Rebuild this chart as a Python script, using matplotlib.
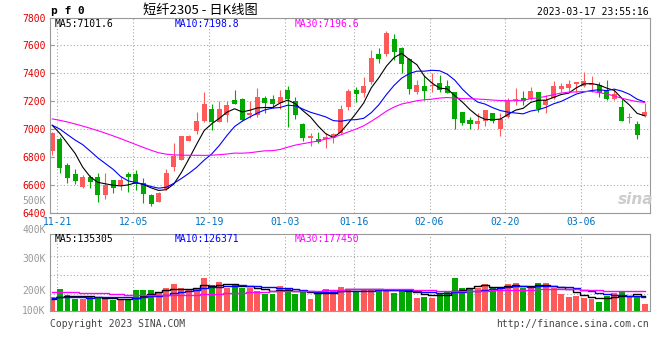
import matplotlib
matplotlib.use("Agg")
import matplotlib.pyplot as plt
import numpy as np
import pandas as pd

# daily K of pf2305, one value per trading day (11-18 .. 03-16)
opens = [6848, 6931, 6745, 6681, 6590, 6657, 6662, 6531, 6638, 6602,
         6683, 6681, 6614, 6531, 6483, 6574, 6729, 6783, 6919, 6990,
         7062, 7145, 7055, 7102, 7210, 7217, 7102, 7102, 7221, 7214,
         7186, 7281, 7202, 7038, 6940, 6931, 6933, 6936, 6976, 7157,
         7281, 7262, 7336, 7538, 7536, 7645, 7579, 7500, 7269, 7310,
         7307, 7329, 7310, 7269, 7121, 7067, 7038, 7060, 7114, 7005,
         7090, 7210, 7221, 7214, 7269, 7176, 7226, 7288, 7298, 7324,
         7312, 7317, 7317, 7281, 7217, 7157, 7079, 7036, 7095]
highs = [6983, 6948, 6762, 6714, 6674, 6674, 6686, 6686, 6640, 6667,
         6698, 6710, 6650, 6538, 6550, 6717, 6902, 6955, 6960, 7121,
         7269, 7181, 7205, 7205, 7281, 7225, 7205, 7293, 7238, 7245,
         7281, 7310, 7233, 7048, 6971, 6983, 6976, 6976, 7174, 7286,
         7305, 7371, 7567, 7579, 7702, 7681, 7590, 7507, 7352, 7388,
         7400, 7388, 7352, 7269, 7121, 7086, 7114, 7138, 7114, 7114,
         7221, 7293, 7274, 7305, 7269, 7245, 7345, 7329, 7352, 7340,
         7407, 7381, 7340, 7352, 7286, 7214, 7114, 7062, 7186]
lows = [6819, 6690, 6619, 6607, 6579, 6579, 6483, 6502, 6543, 6567,
        6555, 6567, 6471, 6450, 6479, 6569, 6700, 6783, 6919, 6967,
        7055, 6998, 7050, 7055, 7183, 7060, 7082, 7090, 7114, 7150,
        7143, 7019, 7071, 6919, 6881, 6900, 6869, 6900, 6967, 7138,
        7198, 7233, 7324, 7476, 7524, 7495, 7405, 7252, 7252, 7210,
        7269, 7269, 7257, 7005, 7031, 7005, 7005, 7026, 7043, 6955,
        7079, 7174, 7174, 7210, 7126, 7119, 7214, 7269, 7264, 7264,
        7305, 7267, 7233, 7210, 7210, 7062, 7043, 6929, 7090]
closes = [6976, 6726, 6655, 6633, 6662, 6626, 6531, 6602, 6583, 6638,
          6662, 6610, 6537, 6464, 6545, 6688, 6812, 6950, 6955, 7060,
          7181, 7055, 7145, 7174, 7183, 7067, 7114, 7229, 7190, 7181,
          7229, 7217, 7102, 6940, 6955, 6907, 6943, 6964, 7143, 7276,
          7250, 7310, 7507, 7505, 7690, 7555, 7464, 7288, 7317, 7276,
          7312, 7281, 7262, 7074, 7048, 7038, 7060, 7138, 7062, 7071,
          7202, 7214, 7205, 7274, 7145, 7207, 7310, 7310, 7324, 7336,
          7345, 7324, 7257, 7214, 7252, 7062, 7086, 6960, 7126]
# volume in thousand lots
volumes = [130, 197, 149, 108, 108, 124, 130, 108, 97, 97,
           108, 189, 189, 189, 162, 205, 243, 211, 194, 205,
           300, 238, 259, 211, 232, 211, 205, 184, 157, 157,
           230, 211, 157, 170, 108, 162, 203, 189, 219, 203,
           170, 203, 203, 203, 184, 162, 178, 194, 118, 125,
           118, 155, 185, 300, 210, 210, 210, 240, 205, 210,
           248, 255, 210, 210, 255, 255, 205, 150, 130, 135,
           120, 110, 80, 140, 165, 170, 135, 140, 67]

# the 29 days before the window, only used so the averages start filled
prev_closes = [7026, 7015, 7053, 7112, 7106, 7041, 7142, 7153, 7238, 7292,
               7240, 7167, 7064, 7085, 6988, 6962, 7010, 6985, 7060, 7211,
               7000, 7050, 7020, 6990, 7090, 7016, 7010, 6988, 7155]
prev_volumes = [180, 210, 195, 230, 205, 190, 220, 240, 200, 185,
                215, 225, 195, 180, 210, 205, 190, 215, 200, 180,
                140, 120, 135, 125, 135, 88, 112, 95, 100]

price_ma_text = ["MA5:7101.6", "MA10:7198.8", "MA30:7196.6"]
vol_ma_text = ["MA5:135305", "MA10:126371", "MA30:177450"]
tick_dates = ["11-21", "12-05", "12-19", "01-03", "01-16", "02-06", "02-20", "03-06"]
price_ticks = [6400, 6600, 6800, 7000, 7200, 7400, 7600, 7800]
vol_labels = ["500K", "400K", "300K", "200K", "100K"]

dates = pd.bdate_range("2022-11-18", "2023-03-16")
holidays = pd.to_datetime(["2023-01-02", "2023-01-23", "2023-01-24",
                           "2023-01-25", "2023-01-26", "2023-01-27"])
dates = dates[~dates.isin(holidays)]
day_labels = list(dates.strftime("%m-%d"))


def moving(prev, vals, n):
    s = pd.Series(list(prev) + list(vals), dtype=float)
    return s.rolling(n).mean().iloc[len(prev):].to_numpy()


x = np.arange(len(closes))
o = np.array(opens, float)
c = np.array(closes, float)
up = c >= o
RED, GREEN = "#ff5a5a", "#00a800"
cols = [RED if u else GREEN for u in up]
ma_cols = ["#000000", "#0000ff", "#ff00ff"]
GRID = dict(color="#aaaaaa", lw=0.8, ls=(0, (1, 2)))
MONO = "DejaVu Sans Mono"

plt.rcParams["font.family"] = [MONO]
W, H = 660, 360
fig = plt.figure(figsize=(6.6, 3.6), dpi=100)


def box(l, t, r, b):
    return [l / W, 1 - b / H, (r - l) / W, (b - t) / H]


def ftext(px, py, s, **kw):
    kw.setdefault("fontsize", 7)
    kw.setdefault("va", "center")
    fig.text(px / W, 1 - py / H, s, **kw)


ax = fig.add_axes(box(50, 17.5, 650, 213.3))
axv = fig.add_axes(box(50, 234.3, 650, 311))
tick_pos = [day_labels.index(d) - 0.33 for d in tick_dates]

# ---- price panel
ax.vlines(x, lows, highs, colors=cols, lw=0.8, zorder=2)
body = np.maximum(np.abs(c - o), 7)
ax.bar(x, body, bottom=np.minimum(o, c), width=0.66, color=cols, lw=0, zorder=2)
for n, col in zip([5, 10, 30], ma_cols):
    ax.plot(x, moving(prev_closes, closes, n), color=col, lw=0.8, zorder=3)

ax.set_xlim(-0.3, 78.7)
ax.set_ylim(6400, 7800)
ax.set_yticks(price_ticks)
ax.set_xticks(tick_pos)
ax.set_xticklabels(tick_dates)
ax.grid(True, **GRID)
ax.set_axisbelow(True)
ax.tick_params(axis="y", direction="in", length=3, color="#999999",
               labelcolor="#e00000", labelsize=7, pad=3)
ax.tick_params(axis="x", length=0, labelcolor="#0070c0", labelsize=7, pad=3)
for sp in ax.spines.values():
    sp.set_color("#999999")

# ---- volume panel
vol = np.array(volumes) * 1000
axv.bar(x, vol, width=0.78, color=cols, lw=0, zorder=2)
for n, col in zip([5, 10, 30], ma_cols):
    axv.plot(x, moving(prev_volumes, volumes, n) * 1000, color=col, lw=1.0,
             drawstyle="steps-mid", zorder=3)
axv.set_xlim(-0.3, 78.7)
axv.set_ylim(0, 693000)
axv.set_yticks([151000, 324000, 498000])
axv.set_xticks(tick_pos)
axv.set_xticklabels([])
axv.set_yticklabels([])
axv.tick_params(length=0)
axv.grid(True, **GRID)
axv.set_axisbelow(True)
for sp in axv.spines.values():
    sp.set_color("#999999")
for lab, frac in zip(vol_labels, [1.434, 1.056, 0.678, 0.261, 0.0]):
    axv.text(-0.007, frac, lab, transform=axv.transAxes, ha="right", va="center",
             fontsize=7, color="#999999", clip_on=False)

# ---- texts
ftext(51, 11, "p f 0", fontsize=8, fontweight="bold")
ftext(200, 10, "短纤2305 - 日K线图", fontsize=9.5, ha="center",
      family=["Noto Sans CJK SC", "DejaVu Sans"])
ftext(649, 12, "2023-03-17 23:55:16", ha="right")
for px, s, col in zip([55, 175, 295], price_ma_text, ma_cols):
    ftext(px, 24, s, color=col)
for px, s, col in zip([55, 175, 295], vol_ma_text, ma_cols):
    ftext(px, 239, s, color=col)
ftext(50, 324, "Copyright 2023 SINA.COM", color="#444444")
ftext(649, 324, "http://finance.sina.com.cn", ha="right", color="#444444")
ftext(636, 199, "sina", fontsize=11, fontweight="bold", style="italic",
      color="#cccccc", ha="center", family=["DejaVu Sans"])

fig.savefig("out.png", dpi=100)
